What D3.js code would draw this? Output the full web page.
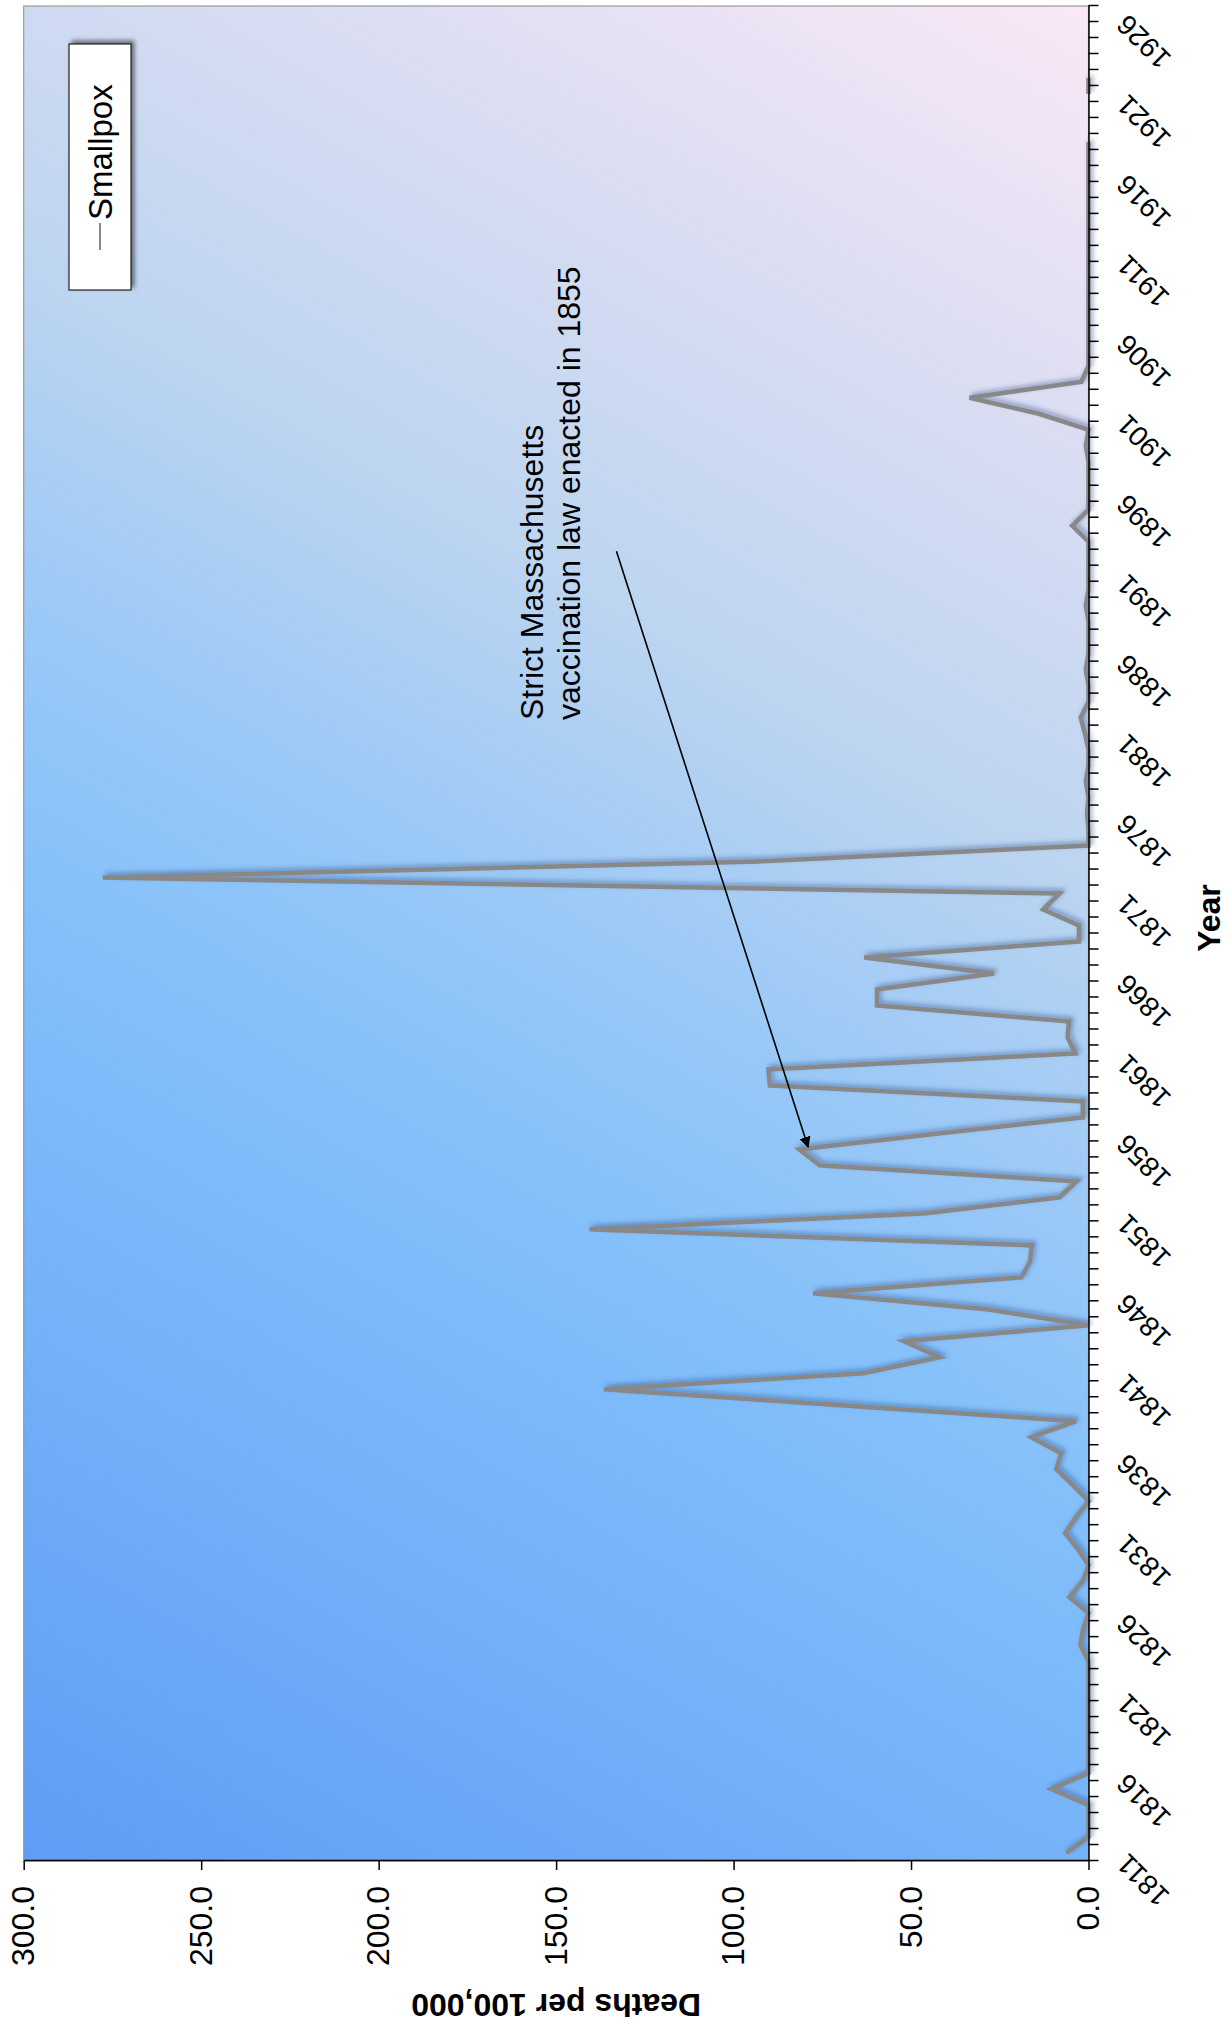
<!DOCTYPE html>
<html><head><meta charset="utf-8">
<script src="https://cdn.jsdelivr.net/npm/d3@7"></script>
<style>
html,body{margin:0;padding:0;background:#fff;}
svg{display:block;font-family:"Liberation Sans",Arial,sans-serif;}
</style>
</head><body>
<script>
// ---------- data ----------
const firstYear = 1811, lastYear = 1926;
const years = d3.range(firstYear, lastYear + 1);
const seriesName = "Smallpox";
const smallpox = [
  6.3, 0, 0, 0, 10.5, 0, 0, 0, 0, 0,            // 1811-1820
  0, 0, 0, 2.3, 1.5, 0, 5.4, 1.6, 0, 3,          // 1821-1830
  6.6, 3.5, 0, 4.4, 9.1, 7.7, 16.2, 3.5, 70, 136.5, // 1831-1840
  63.5, 42, 52, 0, 28.6, 77.6, 18.9, 16.5, 16, 140.6, // 1841-1850
  46, 8.2, 3.4, 75.7, 81.5, 42, 1.6, 1.6, 89.8, 90.2, // 1851-1860
  3.7, 5.9, 5.5, 59.6, 59.6, 26.6, 63.2, 2.7, 2.7, 12.8, // 1861-1870
  8.2, 277.7, 93.5, 0, 0, 0.4, 0, 0.8, 0, 0,     // 1871-1880
  1, 2.2, 0, 0, 0.8, 0, 0, 0, 0.8, 0,            // 1881-1890
  0, 0, 0, 4.6, 0, 0, 0, 0, 0.8, 0,              // 1891-1900
  14, 33.5, 2, 0, 0, 0, 0, 0, 0, 0,              // 1901-1910
  0, 0, 0, 0, 0, 0, 0, 0, null, null,            // 1911-1920
  0, 0, null, null, null, null                   // 1921-1926
];
const yearTickLabels = [1811,1816,1821,1826,1831,1836,1841,1846,1851,1856,1861,1866,1871,1876,1881,1886,1891,1896,1901,1906,1911,1916,1921,1926];
const valueTicks = [0, 50, 100, 150, 200, 250, 300];
const xTitle = "Year";
const yTitle = "Deaths per 100,000";
const annotationLines = ["Strict Massachusetts", "vaccination law enacted in 1855"];
const arrowFrom = [1892.4, 133];   // [year, deaths]
const arrowTo = [1855.15, 79];

// ---------- layout (chart drawn unrotated, then turned 90° counter-clockwise) ----------
const W = 1232, H = 2026;
const plot = {left: 165, right: 2020, top: 23.7, bottom: 1088.5};

const svg = d3.select("body").append("svg").attr("width", W).attr("height", H);
const defs = svg.append("defs");

const grad = defs.append("linearGradient").attr("id", "bg")
  .attr("gradientUnits", "userSpaceOnUse")
  .attr("x1", plot.left).attr("y1", plot.top)
  .attr("x2", plot.right).attr("y2", plot.bottom);
[[0, "#5e9cf6"], [0.2, "#71aff8"], [0.38, "#82bffa"], [0.5, "#99c8f7"],
 [0.65, "#bdd5f0"], [0.8, "#d7dcf2"], [1, "#fae8f6"]].forEach(([o, c]) =>
  grad.append("stop").attr("offset", o).attr("stop-color", c));

const sh = defs.append("filter").attr("id", "shadow")
  .attr("x", "-5%").attr("y", "-5%").attr("width", "110%").attr("height", "110%");
sh.append("feDropShadow").attr("dx", 2.5).attr("dy", 2.5).attr("stdDeviation", 2)
  .attr("flood-color", "#2a4f8a").attr("flood-opacity", 0.45);

const sh2 = defs.append("filter").attr("id", "boxshadow")
  .attr("x", "-20%").attr("y", "-20%").attr("width", "140%").attr("height", "140%");
sh2.append("feDropShadow").attr("dx", 3).attr("dy", 3).attr("stdDeviation", 2)
  .attr("flood-color", "#000").attr("flood-opacity", 0.5);

defs.append("marker").attr("id", "arrowhead")
  .attr("viewBox", "0 0 10 10").attr("refX", 9).attr("refY", 5)
  .attr("markerWidth", 7).attr("markerHeight", 7).attr("orient", "auto")
  .append("path").attr("d", "M0,0 L10,5 L0,10 z").attr("fill", "#000");

const g = svg.append("g").attr("transform", `translate(0,${H}) rotate(-90)`);

const xPos = d3.scaleLinear().domain([firstYear - 0.5, lastYear + 0.5]).range([plot.left, plot.right]);
const yPos = d3.scaleLinear().domain([0, 300]).range([plot.bottom, plot.top]);

// plot background
g.append("rect")
  .attr("x", plot.left).attr("y", plot.top)
  .attr("width", plot.right - plot.left).attr("height", plot.bottom - plot.top)
  .attr("fill", "url(#bg)").attr("stroke", "#9a9a9a").attr("stroke-width", 1.2);

// series line
const data = years.map((y, i) => ({year: y, v: smallpox[i]}));
const line = d3.line().defined(d => d.v != null).x(d => xPos(d.year)).y(d => yPos(d.v));
g.append("path").datum(data)
  .attr("d", line).attr("fill", "none")
  .attr("stroke", "#888888").attr("stroke-width", 4.5)
  .attr("stroke-linejoin", "miter")
  .attr("filter", "url(#shadow)");

// value axis
const yAxis = g.append("g").attr("transform", `translate(${plot.left},0)`)
  .call(d3.axisLeft(yPos).tickValues(valueTicks).tickFormat(d3.format(".1f")).tickSize(9).tickPadding(16).tickSizeOuter(0));
yAxis.selectAll("text").attr("font-size", 32).attr("fill", "#000")
  .attr("font-family", "Liberation Sans, Arial, sans-serif");
yAxis.selectAll("line,path").attr("stroke", "#000").attr("stroke-width", 1.5);

// category axis: tick marks between categories
const boundaries = years.concat([lastYear + 1]).map(y => y - 0.5);
const xAxis = g.append("g").attr("transform", `translate(0,${plot.bottom})`)
  .call(d3.axisBottom(xPos).tickValues(boundaries).tickSize(10).tickFormat("").tickSizeOuter(0));
xAxis.selectAll("line,path").attr("stroke", "#000").attr("stroke-width", 1.5);

// category labels
g.append("g").selectAll("text").data(yearTickLabels).join("text")
  .attr("transform", d => `translate(${xPos(d) + 1},${plot.bottom + 40}) rotate(-45)`)
  .attr("text-anchor", "end").attr("font-size", 28).attr("fill", "#000")
  .text(d => d);

// axis titles
g.append("text")
  .attr("transform", `translate(32,${(plot.top + plot.bottom) / 2}) rotate(-90)`)
  .attr("text-anchor", "middle").attr("font-size", 32).attr("font-weight", "bold")
  .text(yTitle);
g.append("text")
  .attr("x", 1108).attr("y", 1220)
  .attr("text-anchor", "middle").attr("font-size", 32).attr("font-weight", "bold")
  .text(xTitle);

// annotation
const ann = g.append("text").attr("font-size", 32).attr("fill", "#000");
annotationLines.forEach((t, i) =>
  ann.append("tspan").attr("x", 1306).attr("y", 543 + i * 37).text(t));
g.append("line")
  .attr("x1", xPos(arrowFrom[0])).attr("y1", yPos(arrowFrom[1]))
  .attr("x2", xPos(arrowTo[0])).attr("y2", yPos(arrowTo[1]))
  .attr("stroke", "#000").attr("stroke-width", 1.6)
  .attr("marker-end", "url(#arrowhead)");

// legend
const lg = g.append("g");
lg.append("rect").attr("x", 1736).attr("y", 69).attr("width", 246).attr("height", 62)
  .attr("fill", "#fff").attr("stroke", "#222").attr("stroke-width", 1.2)
  .attr("filter", "url(#boxshadow)");
lg.append("line").attr("x1", 1776).attr("x2", 1803).attr("y1", 100).attr("y2", 100)
  .attr("stroke", "#888").attr("stroke-width", 2);
lg.append("text").attr("x", 1806).attr("y", 112).attr("font-size", 33).attr("fill", "#000")
  .text(seriesName);
</script>
</body></html>
